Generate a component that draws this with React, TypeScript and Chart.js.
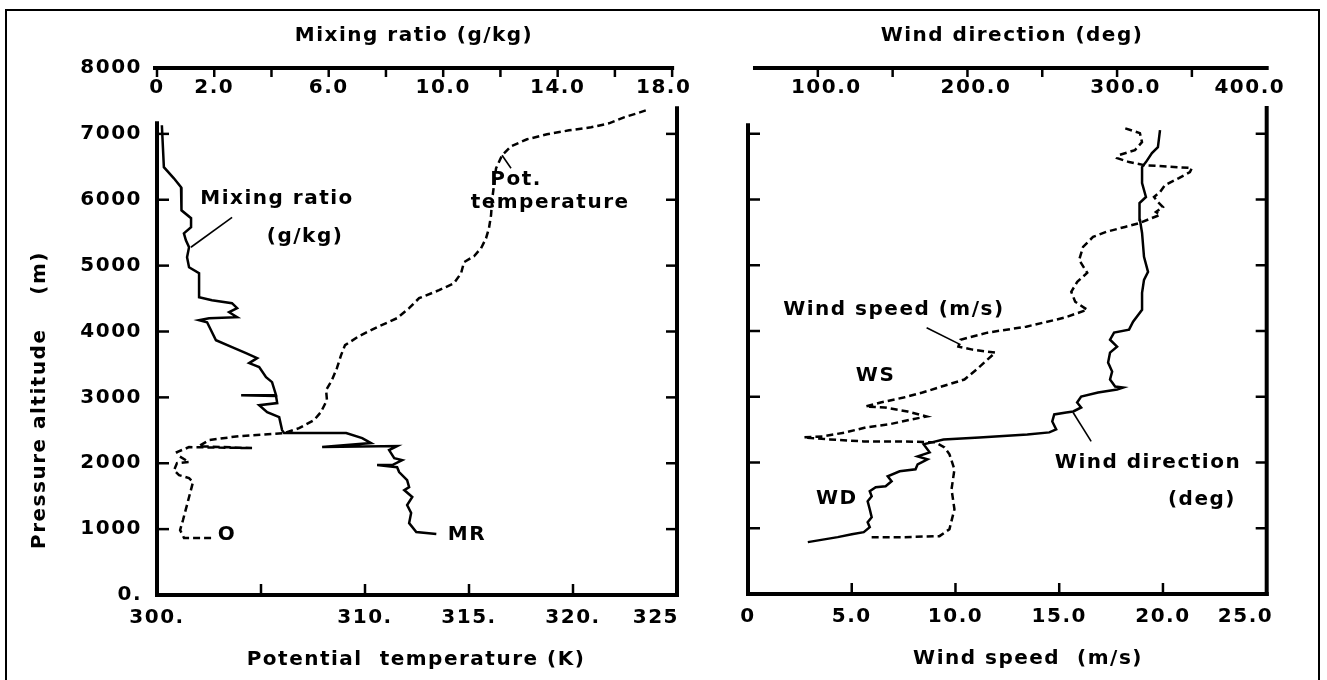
import React, { useEffect, useRef } from 'react';
import { Chart, registerables } from 'chart.js';

Chart.register(...registerables);

const FONT = '"DejaVu Sans", "Liberation Sans", sans-serif';
const FONT_SIZE = 20;
const LETTER_SPACING = '1.5px';

// ---------- tick values and labels ----------
const altitudeTicks = [0, 1000, 2000, 3000, 4000, 5000, 6000, 7000, 8000];
const altitudeTickLabels = ['0.', '1000', '2000', '3000', '4000', '5000', '6000', '7000', '8000'];
const innerAltitudeTicks = [1000, 2000, 3000, 4000, 5000, 6000, 7000];

const thetaTicks = [300, 305, 310, 315, 320, 325];
const thetaTickLabels = ['300.', '', '310.', '315.', '320.', '325     '];
const mixingTicks = [0, 2, 4, 6, 8, 10, 12, 14, 16, 18];
const mixingTickLabels = ['0', '2.0', '', '6.0', '', '10.0', '', '14.0', '', '18.0  '];

const speedTicks = [0, 5, 10, 15, 20, 25];
const speedTickLabels = ['0', '5.0', '10.0', '15.0', '20.0', '25.0     '];
const directionTicks = [100, 150, 200, 250, 300, 350, 400];
const directionTickLabels = ['  100.0', '', '  200.0', '', '  300.0', '', '400.0    '];

// ---------- left panel: mixing ratio (g/kg) ----------
const mrAltitude = [
  7130, 6495, 6325, 6190, 5990, 5840, 5720, 5583, 5490, 5385, 5280, 5128, 4976, 4885, 4520, 4475,
  4430, 4354, 4293, 4217, 4202, 4172, 4141, 3868, 3762, 3671, 3595, 3520, 3459, 3307, 3231, 3034,
  3034, 3019, 2913, 2882, 2776, 2700, 2503, 2458, 2458, 2382, 2306, 2245, 2260, 2200, 2078, 2048,
  1972, 1972, 1940, 1866, 1745, 1638, 1593, 1487, 1365, 1244, 1092, 956, 925,
];
const mrValue = [
  0.17, 0.24, 0.59, 0.84, 0.84, 0.87, 1.19, 1.19, 0.94, 1.01, 1.12, 1.05, 1.12, 1.47, 1.47, 1.92,
  2.62, 2.8, 2.52, 2.8, 1.82, 1.47, 1.75, 2.06, 2.62, 3.11, 3.5, 3.22, 3.57, 3.81, 4.02, 4.16,
  2.94, 4.16, 4.2, 3.57, 3.85, 4.27, 4.37, 4.44, 6.61, 7.17, 7.48, 5.77, 8.39, 8.11, 8.29, 8.57,
  8.22, 7.69, 8.39, 8.46, 8.74, 8.81, 8.64, 8.92, 8.74, 8.88, 8.81, 9.06, 9.76,
];

// ---------- left panel: potential temperature (K) ----------
const thetaAltitude = [
  865, 865, 986, 1138, 1365, 1593, 1714, 1775, 1820, 1896, 2002, 2018, 2109, 2169, 2245, 2230,
  2260, 2351, 2412, 2458, 2533, 2655, 2776, 2958, 3110, 3262, 3444, 3641, 3793, 3929, 4066, 4202,
  4354, 4506, 4627, 4733, 4885, 5052, 5143, 5264, 5416, 5567, 5765, 5992, 6220, 6478, 6675, 6811,
  6918, 6993, 7054, 7100, 7160, 7251, 7312, 7357,
];
const thetaValue = [
  302.6, 301.3, 301.11, 301.25, 301.44, 301.63, 301.73, 301.54, 301.06, 300.82, 300.96, 301.54,
  301.06, 300.96, 301.54, 304.57, 302.02, 302.5, 303.94, 306.11, 306.83, 307.55, 307.88, 308.17,
  308.13, 308.41, 308.65, 308.85, 309.04, 309.71, 310.58, 311.54, 312.12, 312.6, 313.56, 314.28,
  314.62, 314.76, 315.24, 315.58, 315.82, 315.96, 316.06, 316.11, 316.2, 316.3, 316.59, 317.02,
  317.79, 318.75, 319.81, 320.87, 321.73, 322.45, 323.08, 323.51,
];

// ---------- right panel: wind speed (m/s) ----------
const wsAltitude = [
  865, 865, 880, 986, 1289, 1593, 1896, 2124, 2230, 2306, 2321, 2321, 2351, 2382, 2397, 2458,
  2533, 2579, 2655, 2700, 2776, 2837, 2852, 2913, 2988, 3064, 3155, 3262, 3413, 3565, 3671, 3717,
  3762, 3868, 3975, 4066, 4202, 4323, 4445, 4597, 4748, 4885, 5082, 5279, 5431, 5507, 5583, 5643,
  5719, 5765, 5810, 5886, 5962, 6038, 6114, 6220, 6326, 6417, 6478, 6523, 6569, 6629, 6675, 6751,
  6872, 7009, 7084,
];
const wsValue = [
  5.96, 7.55, 9.23, 9.71, 9.95, 9.81, 9.95, 9.71, 9.47, 9.04, 7.31, 5.58, 3.94, 2.69, 3.61, 4.71,
  5.67, 6.78, 7.88, 8.61, 7.69, 6.59, 5.67, 6.39, 7.5, 8.41, 9.33, 10.43, 11.01, 11.54, 11.92, 10.82,
  10.14, 10.24, 11.54, 13.41, 15.24, 16.35, 15.77, 15.58, 15.87, 16.35, 15.96, 16.15, 16.63, 17.26,
  18.17, 18.89, 19.47, 19.86, 19.66, 20.0, 19.76, 19.57, 19.86, 20.1, 20.77, 21.3, 21.39, 19.09,
  18.37, 17.79, 17.88, 18.65, 18.99, 18.89, 18.17,
];

// ---------- right panel: wind direction (deg) ----------
const wdAltitude = [
  789, 865, 910, 941, 1016, 1092, 1168, 1289, 1411, 1487, 1563, 1623, 1638, 1714, 1790, 1866,
  1896, 1972, 2048, 2093, 2154, 2276, 2306, 2351, 2382, 2427, 2458, 2503, 2624, 2731, 2761, 2776,
  2837, 2913, 3004, 3064, 3110, 3140, 3155, 3262, 3383, 3519, 3671, 3762, 3868, 3975, 4020, 4141,
  4323, 4581, 4778, 4900, 5127, 5491, 5689, 5840, 5946, 6038, 6250, 6493, 6569, 6705, 6796, 7054,
];
const wdValue = [
  93.3, 113.3, 122.7, 130.7, 134.7, 133.3, 136.0, 134.7, 133.3, 136.0, 134.7, 138.7, 145.3, 149.3,
  146.7, 154.7, 165.3, 166.7, 173.3, 166.7, 174.7, 170.7, 176.0, 184.0, 208.0, 240.0, 254.7, 259.3,
  256.7, 258.0, 266.0, 270.7, 276.0, 273.3, 276.0, 287.3, 300.0, 304.0, 298.7, 295.3, 296.7, 294.0,
  295.3, 300.0, 295.3, 298.0, 308.0, 310.7, 316.7, 316.7, 318.0, 320.7, 318.0, 316.7, 315.3, 314.7,
  315.3, 319.3, 316.7, 316.7, 319.3, 323.3, 327.3, 328.7,
];

// ---------- helpers ----------
const pairs = (xs: number[], ys: number[]) => xs.map((x, i) => ({ x, y: ys[i] }));
const labelFor = (vals: number[], labels: string[], v: number) => {
  const i = vals.findIndex((t) => Math.abs(t - v) < 1e-6);
  return i >= 0 ? labels[i] : '';
};
const tickFont = { family: FONT, size: FONT_SIZE, weight: 'bold' as const };

function makeAxis(o: any) {
  return {
    type: 'linear',
    position: o.position,
    min: o.min,
    max: o.max,
    grid: { display: false, drawTicks: false },
    border: { display: false },
    afterBuildTicks: (s: any) => {
      s.ticks = o.ticks.map((value: number) => ({ value }));
    },
    afterFit: (s: any) => {
      if (o.width !== undefined) s.width = o.width;
      if (o.height !== undefined) s.height = o.height;
    },
    ticks: {
      display: o.showLabels !== false,
      autoSkip: false,
      maxRotation: 0,
      minRotation: 0,
      mirror: !!o.mirror,
      padding: o.padding ?? 10,
      font: tickFont,
      color: '#000',
      callback: (v: number) => labelFor(o.ticks, o.labels || [], v),
    },
  };
}

type Deco = {
  bottomKey: string;
  topKey: string;
  bottomRange: [number, number];
  topRange: [number, number];
  bottomInnerTicks: number[];
  topTicks: number[];
  leftTop: number;
  rightTop: number;
  labels: { text: string; axis: string; x: number; y: number }[];
  leaders: { axis: string; x1: number; y1: number; x2: number; y2: number }[];
  titles: { text: string; x: number; y: number; rotate?: boolean }[];
};

function decoPlugin(d: Deco) {
  return {
    id: 'deco',
    beforeUpdate(chart: any) {
      chart.ctx.letterSpacing = LETTER_SPACING;
    },
    beforeDraw(chart: any) {
      chart.ctx.letterSpacing = LETTER_SPACING;
    },
    afterDraw(chart: any) {
      const ctx = chart.ctx;
      const ys = chart.scales.y;
      const xb = chart.scales[d.bottomKey];
      const xt = chart.scales[d.topKey];
      const seg = (x1: number, y1: number, x2: number, y2: number) => {
        ctx.beginPath();
        ctx.moveTo(x1, y1);
        ctx.lineTo(x2, y2);
        ctx.stroke();
      };
      ctx.save();
      ctx.strokeStyle = '#000';
      ctx.lineCap = 'square';
      ctx.lineWidth = 4;
      const xL = xb.getPixelForValue(d.bottomRange[0]);
      const xR = xb.getPixelForValue(d.bottomRange[1]);
      const y0 = ys.getPixelForValue(0);
      const yTop = ys.getPixelForValue(8000);
      seg(xL, y0, xR, y0);
      seg(xL, y0, xL, ys.getPixelForValue(d.leftTop));
      seg(xR, y0, xR, ys.getPixelForValue(d.rightTop));
      seg(xt.getPixelForValue(d.topRange[0]), yTop, xt.getPixelForValue(d.topRange[1]), yTop);
      ctx.lineCap = 'butt';
      ctx.lineWidth = 2.5;
      innerAltitudeTicks.forEach((v) => {
        const y = ys.getPixelForValue(v);
        seg(xL, y, xL + 12, y);
        seg(xR, y, xR - 11, y);
      });
      d.bottomInnerTicks.forEach((v) => {
        const x = xb.getPixelForValue(v);
        seg(x, y0, x, y0 - 11);
      });
      d.topTicks.forEach((v) => {
        const x = xt.getPixelForValue(v);
        seg(x, yTop, x, yTop + 9);
      });
      ctx.lineWidth = 1.6;
      d.leaders.forEach((l) => {
        const sx = chart.scales[l.axis];
        seg(sx.getPixelForValue(l.x1), ys.getPixelForValue(l.y1), sx.getPixelForValue(l.x2), ys.getPixelForValue(l.y2));
      });
      ctx.fillStyle = '#000';
      ctx.font = `bold ${FONT_SIZE}px ${FONT}`;
      ctx.letterSpacing = LETTER_SPACING;
      ctx.textAlign = 'center';
      ctx.textBaseline = 'middle';
      d.labels.forEach((l) => {
        const sx = chart.scales[l.axis];
        ctx.fillText(l.text, sx.getPixelForValue(l.x), ys.getPixelForValue(l.y));
      });
      d.titles.forEach((t) => {
        ctx.save();
        ctx.translate(t.x, t.y);
        if (t.rotate) ctx.rotate(-Math.PI / 2);
        ctx.fillText(t.text, 0, 0);
        ctx.restore();
      });
      ctx.restore();
    },
  };
}

const solid = { borderColor: '#000', borderWidth: 2.5, pointRadius: 0, showLine: true, tension: 0, fill: false };
const dashed = { ...solid, borderDash: [7, 4] };

function baseOptions(scales: any, padding: any) {
  return {
    responsive: false,
    maintainAspectRatio: false,
    devicePixelRatio: 1,
    animation: false,
    events: [],
    layout: { padding },
    plugins: { legend: { display: false }, tooltip: { enabled: false }, title: { display: false } },
    scales,
  };
}

function leftConfig(): any {
  return {
    type: 'scatter',
    data: {
      datasets: [
        { ...solid, label: 'Mixing ratio', data: pairs(mrValue, mrAltitude), xAxisID: 'x2', yAxisID: 'y' },
        { ...dashed, label: 'Potential temperature', data: pairs(thetaValue, thetaAltitude), xAxisID: 'x', yAxisID: 'y' },
      ],
    },
    options: baseOptions(
      {
        x: makeAxis({ position: 'bottom', min: 300, max: 325, ticks: thetaTicks, labels: thetaTickLabels, height: 85, padding: 11 }),
        x2: makeAxis({ position: 'top', min: 0, max: 18.17, ticks: mixingTicks, labels: mixingTickLabels, height: 68, padding: 8, mirror: true }),
        y: makeAxis({ position: 'left', min: 0, max: 8000, ticks: altitudeTicks, labels: altitudeTickLabels, width: 157, padding: 15 }),
      },
      { left: 0, top: 0, right: 83, bottom: 0 }
    ),
    plugins: [
      decoPlugin({
        bottomKey: 'x',
        topKey: 'x2',
        bottomRange: [300, 325],
        topRange: [-0.07, 18],
        bottomInnerTicks: [305, 310, 315, 320],
        topTicks: mixingTicks,
        leftTop: 7160,
        rightTop: 7390,
        labels: [
          { text: 'Mixing ratio', axis: 'x', x: 305.77, y: 6022 },
          { text: '(g/kg)', axis: 'x', x: 307.12, y: 5431 },
          { text: 'Pot.', axis: 'x', x: 317.26, y: 6296 },
          { text: 'temperature', axis: 'x', x: 318.9, y: 5947 },
          { text: 'O', axis: 'x', x: 303.37, y: 910 },
          { text: 'MR', axis: 'x', x: 314.9, y: 910 },
        ],
        leaders: [
          { axis: 'x', x1: 303.61, y1: 5734, x2: 301.63, y2: 5279 },
          { axis: 'x', x1: 317.02, y1: 6478, x2: 316.59, y2: 6675 },
        ],
        titles: [
          { text: 'Mixing ratio (g/kg)', x: 414, y: 36 },
          { text: 'Potential  temperature (K)', x: 416, y: 660 },
          { text: 'Pressure altitude    (m)', x: 40, y: 400, rotate: true },
        ],
      }),
    ],
  };
}

function rightConfig(): any {
  return {
    type: 'scatter',
    data: {
      datasets: [
        { ...solid, label: 'Wind direction', data: pairs(wdValue, wdAltitude), xAxisID: 'x2', yAxisID: 'y' },
        { ...dashed, label: 'Wind speed', data: pairs(wsValue, wsAltitude), xAxisID: 'x', yAxisID: 'y' },
      ],
    },
    options: baseOptions(
      {
        x: makeAxis({ position: 'bottom', min: 0, max: 25, ticks: speedTicks, labels: speedTickLabels, height: 86, padding: 11 }),
        x2: makeAxis({ position: 'top', min: 53.33, max: 400, ticks: directionTicks, labels: directionTickLabels, height: 68, padding: 8, mirror: true }),
        y: makeAxis({ position: 'left', min: 0, max: 8000, ticks: altitudeTicks, labels: [], width: 28, showLabels: false }),
      },
      { left: 0, top: 0, right: 59, bottom: 0 }
    ),
    plugins: [
      decoPlugin({
        bottomKey: 'x',
        topKey: 'x2',
        bottomRange: [0, 25],
        topRange: [58, 400],
        bottomInnerTicks: [5, 10, 15, 20],
        topTicks: [100, 150, 200, 250, 300, 350],
        leftTop: 7130,
        rightTop: 7390,
        labels: [
          { text: 'Wind speed (m/s)', axis: 'x', x: 7.03, y: 4323 },
          { text: 'WS', axis: 'x', x: 6.15, y: 3322 },
          { text: 'WD', axis: 'x', x: 4.28, y: 1441 },
          { text: 'Wind direction', axis: 'x', x: 19.28, y: 2002 },
          { text: '(deg)', axis: 'x', x: 21.88, y: 1426 },
        ],
        leaders: [
          { axis: 'x', x1: 8.61, y1: 4050, x2: 10.24, y2: 3793 },
          { axis: 'x', x1: 15.67, y1: 2761, x2: 16.54, y2: 2321 },
        ],
        titles: [
          { text: 'Wind direction (deg)', x: 292, y: 36 },
          { text: 'Wind speed  (m/s)', x: 308, y: 659 },
        ],
      }),
    ],
  };
}

export default function App() {
  const leftRef = useRef<HTMLCanvasElement>(null);
  const rightRef = useRef<HTMLCanvasElement>(null);

  useEffect(() => {
    const left = new Chart(leftRef.current as HTMLCanvasElement, leftConfig());
    const right = new Chart(rightRef.current as HTMLCanvasElement, rightConfig());
    return () => {
      left.destroy();
      right.destroy();
    };
  }, []);

  return (
    <div style={{ position: 'fixed', left: 0, top: 0, width: 1327, height: 680, background: '#fff', overflow: 'hidden' }}>
      <div
        style={{
          position: 'absolute',
          left: 5,
          top: 9,
          width: 1311,
          height: 700,
          borderLeft: '2px solid #000',
          borderTop: '2px solid #000',
          borderRight: '2px solid #000',
        }}
      />
      <canvas ref={leftRef} width={760} height={680} style={{ position: 'absolute', left: 0, top: 0, width: 760, height: 680 }} />
      <canvas ref={rightRef} width={607} height={680} style={{ position: 'absolute', left: 720, top: 0, width: 607, height: 680 }} />
    </div>
  );
}
